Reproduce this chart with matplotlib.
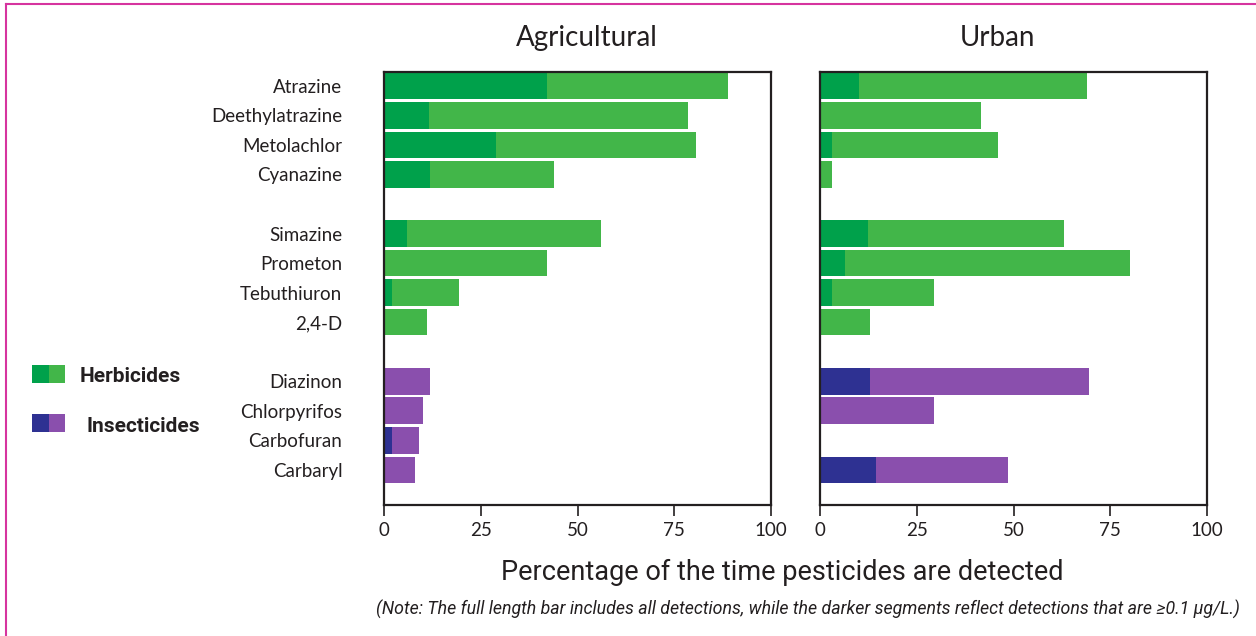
import matplotlib
matplotlib.use("Agg")
import matplotlib.pyplot as plt
from matplotlib.patches import Rectangle
from matplotlib.lines import Line2D
import numpy as np

# data
categories = ["Atrazine", "Deethylatrazine", "Metolachlor", "Cyanazine",
              "Simazine", "Prometon", "Tebuthiuron", "2,4-D",
              "Diazinon", "Chlorpyrifos", "Carbofuran", "Carbaryl"]
groups = [0, 0, 0, 0, 1, 1, 1, 1, 2, 2, 2, 2]  # 0/1 herbicides, 2 insecticides
ag_total = [89, 78.5, 80.5, 44, 56, 42, 19.5, 11, 12, 10, 9, 8]
ag_dark = [42, 11.5, 29, 12, 6, 0, 2, 0, 0, 0, 2, 0]
urb_total = [69, 41.5, 46, 3, 63, 80, 29.5, 13, 69.5, 29.5, 0, 48.5]
urb_dark = [10, 0, 3, 0, 12.5, 6.5, 3, 0, 13, 0, 0, 14.5]
xticks = [0, 25, 50, 75, 100]

GREEN_L, GREEN_D = "#42b649", "#00a14b"
PURP_L, PURP_D = "#8a4fad", "#2e3192"
INK = "#231f20"

main_font = ["Lato", "DejaVu Sans"]
narrow_font = ["Roboto", "DejaVu Sans"]
plt.rcParams["font.family"] = main_font

W, H = 1256, 636
fig = plt.figure(figsize=(W / 100, H / 100), dpi=100)
fig.patch.set_facecolor("white")

pos = np.arange(len(categories)) + np.array(groups)
light = [PURP_L if g == 2 else GREEN_L for g in groups]
dark = [PURP_D if g == 2 else GREEN_D for g in groups]


def px(x0, y0, x1, y1):
    # pixel box -> figure fraction [left, bottom, width, height]
    return [x0 / W, 1 - y1 / H, (x1 - x0) / W, (y1 - y0) / H]


def panel(rect, total, darkseg, title, title_x):
    ax = fig.add_axes(rect)
    ax.barh(pos, total, height=0.9, color=light, linewidth=0)
    ax.barh(pos, darkseg, height=0.9, color=dark, linewidth=0)
    ax.set_xlim(0, 100)
    ax.set_ylim(14.19, -0.47)
    ax.set_xticks(xticks)
    ax.set_xticklabels([str(t) for t in xticks], fontsize=13.5, color=INK)
    ax.tick_params(axis="x", direction="out", length=8, width=1.2, color=INK, pad=4)
    for s in ax.spines.values():
        s.set_linewidth(1.6)
        s.set_color(INK)
    fig.text(title_x / W, 1 - 38 / H, title, fontsize=20, color=INK,
             ha="center", va="center")
    return ax


ax1 = panel(px(384, 72, 771, 505), ag_total, ag_dark, "Agricultural", 587)
ax1.set_yticks(pos)
ax1.set_yticklabels(categories, fontsize=13.5, color=INK)
ax1.tick_params(axis="y", length=0, pad=30)

ax2 = panel(px(820, 72, 1207, 505), urb_total, urb_dark, "Urban", 997)
ax2.set_yticks([])

# legend, two-tone swatches
for y0, c1, c2, lab, tx in [(365, GREEN_D, GREEN_L, "Herbicides", 80),
                            (414, PURP_D, PURP_L, "Insecticides", 86)]:
    fig.patches.append(Rectangle((32 / W, 1 - (y0 + 18) / H), 17 / W, 18 / H,
                                 transform=fig.transFigure, color=c1, lw=0))
    fig.patches.append(Rectangle((49 / W, 1 - (y0 + 18) / H), 16 / W, 18 / H,
                                 transform=fig.transFigure, color=c2, lw=0))
    fig.text(tx / W, 1 - (y0 + 12) / H, lab, family=narrow_font, fontsize=15,
             fontweight="bold", color=INK, va="center", ha="left")

fig.text(782 / W, 1 - 572 / H, "Percentage of the time pesticides are detected",
         family=narrow_font, fontsize=19.5, color=INK, ha="center", va="center")
fig.text(1240 / W, 1 - 609 / H,
         "(Note: The full length bar includes all detections, while the darker "
         "segments reflect detections that are \u22650.1 \u00b5g/L.)",
         family=narrow_font, fontsize=12.8, style="italic", color=INK,
         ha="right", va="center")

# magenta frame (top and left edges visible)
fig.add_artist(Line2D([6 / W, 1], [1 - 4 / H, 1 - 4 / H], transform=fig.transFigure,
                      color="#d6349f", lw=1.5))
fig.add_artist(Line2D([6 / W, 6 / W], [0, 1 - 4 / H], transform=fig.transFigure,
                      color="#d6349f", lw=1.5))

fig.savefig("out.png", dpi=100)
